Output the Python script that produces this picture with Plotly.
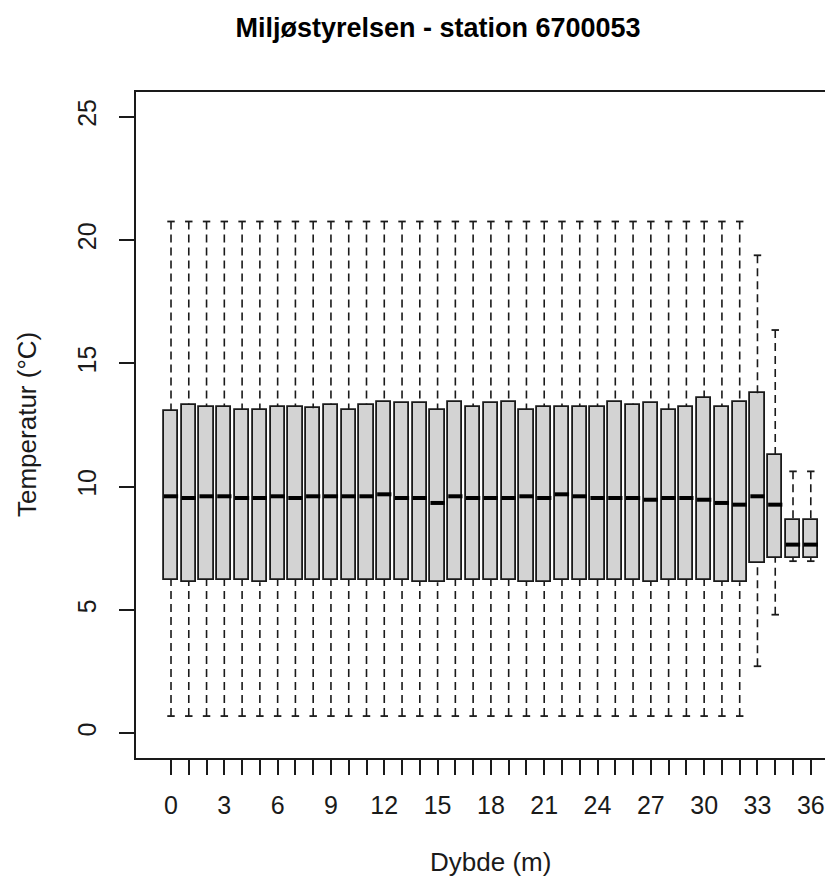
import plotly.graph_objects as go

depths = list(range(37))
q1 = [6.23, 6.15, 6.23, 6.23, 6.23, 6.12, 6.23, 6.23, 6.23, 6.23,
      6.23, 6.23, 6.23, 6.23, 6.15, 6.12, 6.23, 6.23, 6.23, 6.23,
      6.15, 6.15, 6.23, 6.23, 6.23, 6.23, 6.23, 6.15, 6.23, 6.23,
      6.23, 6.15, 6.12, 6.90, 7.12, 7.12, 7.12]
med = [9.61, 9.54, 9.61, 9.61, 9.54, 9.54, 9.61, 9.54, 9.61, 9.61,
       9.61, 9.61, 9.69, 9.54, 9.54, 9.34, 9.61, 9.54, 9.54, 9.54,
       9.61, 9.54, 9.69, 9.61, 9.54, 9.54, 9.54, 9.47, 9.54, 9.54,
       9.47, 9.34, 9.27, 9.61, 9.27, 7.65, 7.65]
q3 = [13.07, 13.32, 13.25, 13.25, 13.11, 13.11, 13.25, 13.25, 13.18, 13.32,
      13.11, 13.32, 13.45, 13.38, 13.38, 13.11, 13.45, 13.25, 13.38, 13.45,
      13.11, 13.25, 13.25, 13.25, 13.25, 13.45, 13.32, 13.38, 13.11, 13.25,
      13.59, 13.25, 13.45, 13.79, 11.29, 8.65, 8.65]
lower = [0.70] * 33 + [2.72, 4.81, 6.98, 6.98]
upper = [20.75] * 33 + [19.38, 16.35, 10.62, 10.62]

x_ticks = list(range(37))
x_labels = [str(v) if v % 3 == 0 else "" for v in x_ticks]
y_ticks = [0, 5, 10, 15, 20, 25]

title_text = "Miljøstyrelsen - station 6700053"
x_title = "Dybde (m)"
y_title = "Temperatur (°C)"

FONT = "Liberation Sans, Arial, sans-serif"
INK = "#1a1a1a"
BOX_W = 0.8
STAPLE_W = 0.42

# page body has an 8px margin; figure is sized/offset to compensate
FIG_W, FIG_H = 825, 868
ML, MT = 128, 84
PW, PH = 697, 666

fig = go.Figure()

# whiskers (dashed), drawn from staple toward box
wx, wy = [], []
for d, a, b, lo, hi in zip(depths, q1, q3, lower, upper):
    wx += [d, d, None, d, d, None]
    wy += [hi, b, None, lo, a, None]
fig.add_trace(go.Scatter(x=wx, y=wy, mode="lines",
                         line=dict(color=INK, width=1.6, dash="8px,5px"),
                         hoverinfo="skip", showlegend=False))

# staples
sx, sy = [], []
for d, lo, hi in zip(depths, lower, upper):
    sx += [d - STAPLE_W / 2, d + STAPLE_W / 2, None, d - STAPLE_W / 2, d + STAPLE_W / 2, None]
    sy += [hi, hi, None, lo, lo, None]
fig.add_trace(go.Scatter(x=sx, y=sy, mode="lines",
                         line=dict(color=INK, width=1.8),
                         hoverinfo="skip", showlegend=False))

# boxes
fig.add_trace(go.Bar(x=depths, y=[b - a for a, b in zip(q1, q3)], base=q1,
                     width=BOX_W,
                     marker=dict(color="#d3d3d3", line=dict(color=INK, width=1.8)),
                     hoverinfo="skip", showlegend=False))

# medians
mx, my = [], []
for d, m in zip(depths, med):
    mx += [d - BOX_W / 2, d + BOX_W / 2, None]
    my += [m, m, None]
fig.add_trace(go.Scatter(x=mx, y=my, mode="lines",
                         line=dict(color="black", width=4),
                         hoverinfo="skip", showlegend=False))

fig.update_layout(
    width=FIG_W, height=FIG_H,
    margin=dict(l=ML, r=FIG_W - ML - PW, t=MT, b=FIG_H - MT - PH, autoexpand=False),
    paper_bgcolor="white", plot_bgcolor="white",
    font=dict(family=FONT, color=INK, size=25),
    title=dict(text="<b>" + title_text + "</b>", font=dict(size=27, color="black"),
               x=430 / FIG_W, xanchor="center", xref="container",
               y=1 - 20 / FIG_H, yanchor="middle", yref="container"),
    xaxis=dict(range=[-1.97, 37.25], tickmode="array", tickvals=x_ticks, ticktext=x_labels,
               ticks="outside", ticklen=15, tickwidth=1.6, tickcolor=INK,
               showline=True, linecolor=INK, linewidth=1.6, mirror=True,
               showgrid=False, zeroline=False, tickfont=dict(size=25),
               ticklabelstandoff=9),
    yaxis=dict(range=[-1, 26], tickmode="array", tickvals=y_ticks,
               ticks="outside", ticklen=15, tickwidth=1.6, tickcolor=INK,
               showline=True, linecolor=INK, linewidth=1.6,
               showgrid=False, zeroline=False, tickangle=-90, tickfont=dict(size=25),
               ticklabelstandoff=13),
    bargap=0,
    annotations=[
        dict(text=x_title, xref="paper", yref="paper",
             x=(482 - ML) / PW, y=-(854 - (MT + PH)) / PH, xanchor="center", yanchor="middle",
             showarrow=False, font=dict(size=26, color=INK)),
        dict(text=y_title, xref="paper", yref="paper", textangle=-90,
             x=-(ML - 19) / PW, y=0.5, xanchor="center", yanchor="middle",
             showarrow=False, font=dict(size=26, color=INK)),
    ],
)

fig.write_html("out.html")
